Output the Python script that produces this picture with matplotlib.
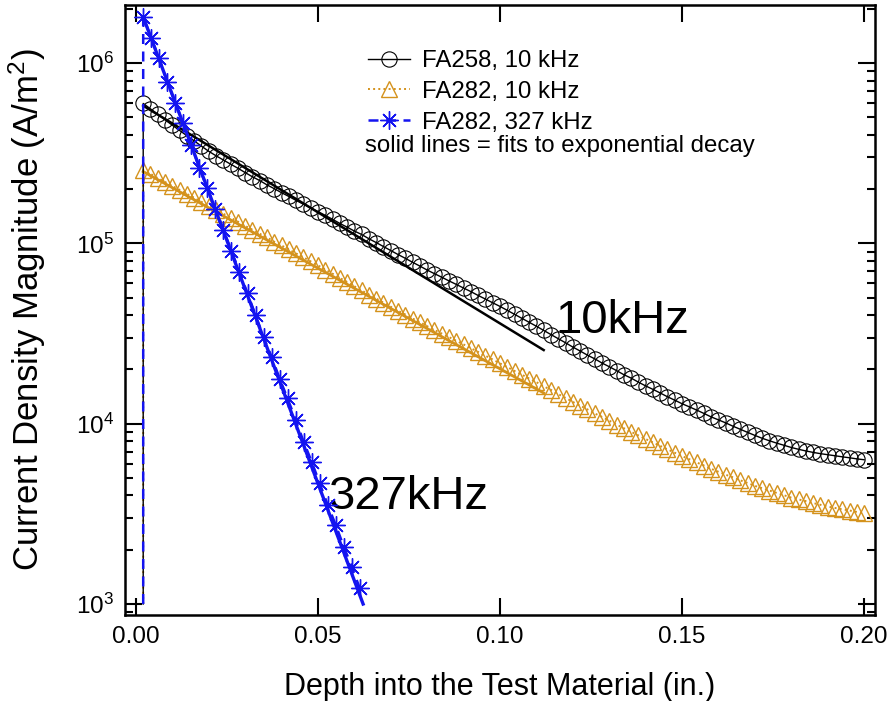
import matplotlib
matplotlib.use('Agg')

import matplotlib.pyplot as plt
import numpy as np
from matplotlib.ticker import FixedLocator, FormatStrFormatter, LogLocator

plt.rcParams['font.family'] = ['Liberation Sans', 'DejaVu Sans']
plt.rcParams['mathtext.fontset'] = 'custom'
plt.rcParams['mathtext.rm'] = 'Liberation Sans'
plt.rcParams['mathtext.it'] = 'Liberation Sans'

# depth grid (in.), first entry is the baseline point that draws the vertical drop
depth_10k = np.r_[0.002, np.arange(0.002, 0.2001, 0.002)]
depth_327 = np.r_[0.002, np.linspace(0.002, 0.0615, 28)]

# current density magnitude (A/m^2)
fa258_10k = [
    1.0e3,
    5.97e5, 5.57e5, 5.20e5, 4.84e5, 4.52e5, 4.23e5, 3.95e5, 3.70e5, 3.46e5, 3.24e5,
    3.06e5, 2.90e5, 2.75e5, 2.61e5, 2.47e5, 2.34e5, 2.23e5, 2.11e5, 2.01e5, 1.91e5,
    1.82e5, 1.73e5, 1.65e5, 1.57e5, 1.50e5, 1.43e5, 1.36e5, 1.29e5, 1.23e5, 1.17e5,
    1.12e5, 1.06e5, 1.01e5, 9.60e4, 9.12e4, 8.67e4, 8.26e4, 7.85e4, 7.48e4, 7.11e4,
    6.79e4, 6.49e4, 6.19e4, 5.92e4, 5.65e4, 5.40e4, 5.14e4, 4.91e4, 4.68e4, 4.47e4,
    4.25e4, 4.04e4, 3.84e4, 3.65e4, 3.47e4, 3.29e4, 3.12e4, 2.96e4, 2.81e4, 2.66e4,
    2.53e4, 2.40e4, 2.29e4, 2.17e4, 2.07e4, 1.97e4, 1.87e4, 1.79e4, 1.70e4, 1.62e4,
    1.55e4, 1.48e4, 1.41e4, 1.35e4, 1.29e4, 1.24e4, 1.19e4, 1.14e4, 1.09e4, 1.05e4,
    1.01e4, 9.68e3, 9.31e3, 8.95e3, 8.61e3, 8.30e3, 8.04e3, 7.80e3, 7.59e3, 7.38e3,
    7.21e3, 7.06e3, 6.93e3, 6.82e3, 6.73e3, 6.64e3, 6.55e3, 6.47e3, 6.38e3, 6.31e3,
]
fa282_10k = [
    1.0e3,
    2.55e5, 2.43e5, 2.30e5, 2.19e5, 2.08e5, 1.98e5, 1.88e5, 1.79e5, 1.70e5, 1.61e5,
    1.53e5, 1.46e5, 1.39e5, 1.32e5, 1.25e5, 1.19e5, 1.13e5, 1.08e5, 1.02e5, 9.73e4,
    9.25e4, 8.79e4, 8.36e4, 7.94e4, 7.55e4, 7.16e4, 6.79e4, 6.43e4, 6.10e4, 5.78e4,
    5.48e4, 5.20e4, 4.94e4, 4.69e4, 4.45e4, 4.23e4, 4.03e4, 3.83e4, 3.65e4, 3.47e4,
    3.31e4, 3.16e4, 3.02e4, 2.88e4, 2.75e4, 2.62e4, 2.50e4, 2.38e4, 2.27e4, 2.16e4,
    2.06e4, 1.96e4, 1.87e4, 1.78e4, 1.70e4, 1.61e4, 1.54e4, 1.46e4, 1.39e4, 1.32e4,
    1.26e4, 1.20e4, 1.14e4, 1.09e4, 1.04e4, 9.89e3, 9.44e3, 9.02e3, 8.61e3, 8.22e3,
    7.87e3, 7.53e3, 7.21e3, 6.90e3, 6.61e3, 6.35e3, 6.10e3, 5.86e3, 5.62e3, 5.41e3,
    5.21e3, 5.04e3, 4.85e3, 4.69e3, 4.52e3, 4.39e3, 4.26e3, 4.13e3, 4.01e3, 3.89e3,
    3.80e3, 3.72e3, 3.63e3, 3.55e3, 3.47e3, 3.41e3, 3.35e3, 3.30e3, 3.24e3, 3.18e3,
]
fa282_327k = [
    1.0e3,
    1.81e6, 1.37e6, 1.06e6, 7.87e5, 5.97e5, 4.63e5, 3.51e5, 2.61e5, 2.02e5, 1.56e5,
    1.19e5, 9.08e4, 6.95e4, 5.28e4, 4.00e4, 3.03e4, 2.35e4, 1.78e4, 1.38e4, 1.05e4,
    7.94e3, 6.15e3, 4.67e3, 3.54e3, 2.74e3, 2.08e3, 1.61e3, 1.22e3,
]

# exponential-decay fits (straight on the log axis): end points
fit_depth_10k = [0.002, 0.112]
fit_fa258 = [5.8e5, 2.56e4]
fit_fa282 = [2.5e5, 1.48e4]
fit_depth_327 = [0.002, 0.0624]
fit_fa282_327 = [1.8e6, 1.0e3]

x_ticks = [0.00, 0.05, 0.10, 0.15, 0.20]
labels = ['FA258, 10 kHz', 'FA282, 10 kHz', 'FA282, 327 kHz']

black = 'black'
orange = '#d4921c'
blue = '#1414f0'
star = (8, 2, 0)

fig = plt.figure(figsize=(8.9, 7.01), dpi=100)
ax = fig.add_axes([125 / 890, 1 - 615 / 701, 750 / 890, 610 / 701])

# fits
ax.plot(fit_depth_10k, fit_fa282, color=orange, lw=2.0, zorder=2)
ax.plot(fit_depth_10k, fit_fa258, color=black, lw=1.8, zorder=3)

# data
l1, = ax.plot(depth_10k, fa258_10k, color=black, lw=1.0, marker='o', ms=11,
              mfc='none', mec=black, mew=0.8, markevery=slice(1, None), zorder=3)
l2, = ax.plot(depth_10k, fa282_10k, color=orange, lw=1.4, ls=':', marker='^', ms=11,
              mfc='none', mec=orange, mew=1.0, markevery=slice(1, None), zorder=2)
ax.plot(fit_depth_327, fit_fa282_327, color=blue, lw=2.4, zorder=4)
l3, = ax.plot(depth_327, fa282_327k, color=blue, lw=1.8, ls=(0, (4, 3)), marker=star, ms=13,
              mec=blue, mew=1.0, markevery=slice(1, None), zorder=4)

ax.set_yscale('log')
ax.set_xlim(-0.003, 0.203)
ax.set_ylim(869, 2.098e6)

ax.xaxis.set_major_locator(FixedLocator(x_ticks))
ax.xaxis.set_major_formatter(FormatStrFormatter('%.2f'))
ax.yaxis.set_major_locator(LogLocator(base=10))
ax.yaxis.set_minor_locator(LogLocator(base=10, subs=np.arange(2, 10)))
ax.yaxis.set_minor_formatter(plt.NullFormatter())

ax.tick_params(which='both', direction='in', top=True, right=True, width=1.5, color='black')
ax.tick_params(which='major', length=12, labelsize=17.5, pad=8)
ax.tick_params(which='minor', length=6)
for s in ax.spines.values():
    s.set_linewidth(1.8)

ax.set_xlabel('Depth into the Test Material (in.)', fontsize=22, labelpad=17)
ax.set_ylabel('Current Density Magnitude (A/m$^2$)', fontsize=25, labelpad=20)

ax.text(0.1151, 3.7e4, '10kHz', fontsize=34, va='center', ha='left')
ax.text(0.0527, 3.9e3, '327kHz', fontsize=34, va='center', ha='left')

leg = fig.legend([l1, l2, l3], labels, loc='upper left',
                 bbox_to_anchor=(368 / 890, 1 - 50 / 701), frameon=False,
                 fontsize=17.3, handlelength=1.75, handletextpad=0.5,
                 labelspacing=0.37, borderpad=0, borderaxespad=0, numpoints=1)
fig.text(365 / 890, 1 - 146 / 701, 'solid lines = fits to exponential decay',
         fontsize=17.3, va='center', ha='left')

fig.savefig('out.png', dpi=100)
plt.close(fig)
